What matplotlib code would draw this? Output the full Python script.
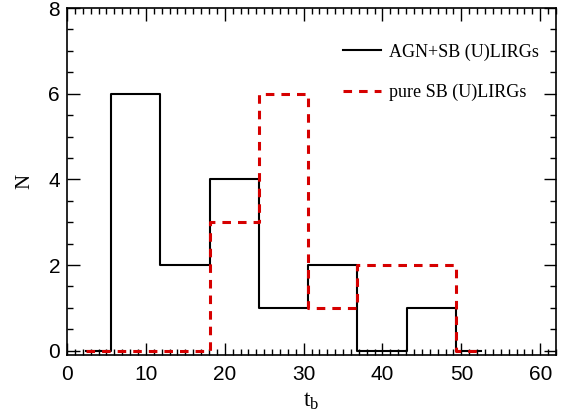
import matplotlib
matplotlib.use("Agg")
import matplotlib.pyplot as plt
from matplotlib.ticker import MultipleLocator

# bin centres of t_b histogram
tb_centers = [2.45, 8.7, 14.95, 21.2, 27.45, 33.7, 39.95, 46.2, 52.45]
agn_sb = [0, 6, 2, 4, 1, 2, 0, 1, 0]
pure_sb = [0, 0, 0, 3, 6, 1, 2, 2, 0]
labels = ["AGN+SB (U)LIRGs", "pure SB (U)LIRGs"]

plt.rcParams['font.family'] = ['Liberation Serif', 'DejaVu Serif']
plt.rcParams['mathtext.fontset'] = 'custom'
plt.rcParams['mathtext.rm'] = 'Liberation Serif'
plt.rcParams['mathtext.it'] = 'Liberation Serif:italic'

fig = plt.figure(figsize=(5.66, 4.12), dpi=100)
ax = fig.add_axes([67/566, 57/412, 489/566, 347/412])

ax.plot(tb_centers, agn_sb, drawstyle='steps-mid', color='black', lw=1.5, label=labels[0])
ax.plot(tb_centers, pure_sb, drawstyle='steps-mid', color='#d60000', lw=2.2,
        dashes=(2.8, 2.3), label=labels[1])

ax.set_xlim(0, 62)
ax.set_ylim(-0.1, 8)
ax.xaxis.set_major_locator(MultipleLocator(10))
ax.xaxis.set_minor_locator(MultipleLocator(1))
ax.yaxis.set_major_locator(MultipleLocator(2))
ax.yaxis.set_minor_locator(MultipleLocator(0.5))
ax.tick_params(which='both', direction='in', top=True, right=True, width=1)
ax.tick_params(which='major', length=9)
ax.tick_params(which='minor', length=4.5)
ax.tick_params(axis='x', pad=7)
ax.tick_params(axis='y', pad=5)
for lab in ax.get_xticklabels() + ax.get_yticklabels():
    lab.set_fontfamily('Liberation Sans')
    lab.set_fontsize(15)
for s in ax.spines.values():
    s.set_linewidth(1.2)

ax.set_xlabel(r'$\mathregular{t_b}$', fontsize=17, labelpad=5)
ax.set_ylabel('N', fontsize=15, labelpad=10)

ax.legend(loc='upper left', bbox_to_anchor=(0.5644, 0.898), frameon=False,
          borderpad=0, borderaxespad=0,
          handlelength=2.1, handletextpad=0.45, labelspacing=1.3, fontsize=13)

fig.savefig('out.png', dpi=100)
